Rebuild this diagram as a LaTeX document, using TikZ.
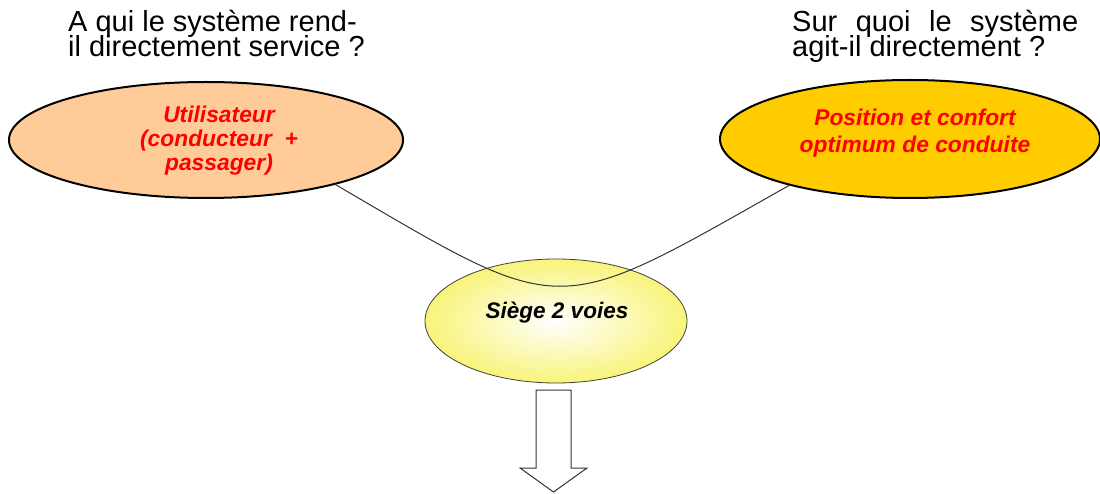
\documentclass[tikz,border=0pt]{standalone}
\usepackage{fontspec}
\setmainfont{Liberation Sans}
\usetikzlibrary{shapes.geometric}
\definecolor{peach}{HTML}{FFCC99}
\definecolor{gold}{HTML}{FFCC00}
\definecolor{paleyel}{HTML}{F8F47A}
\setlength{\lineskiplimit}{-20pt}
\tikzset{
  question/.style={anchor=base west, align=left, inner sep=0,
    font=\fontsize{29}{25}\selectfont},
  bigell/.style={ellipse, draw=black, line width=2pt, inner sep=0},
  redtxt/.style={align=center, text=red, inner sep=0,
    font=\fontsize{22.8}{24}\selectfont\bfseries\itshape},
  midell/.style={ellipse, draw=black!75, line width=0.8pt, inner sep=0,
    inner color=white, outer color=paleyel},
  link/.style={draw=black!80, line width=1pt},
  blockarrow/.style={draw=black!80, line width=1pt, fill=white}
}
\begin{document}
\begin{tikzpicture}[x=1pt,y=-1pt]
\useasboundingbox (0,0) rectangle (1100,494);
% questions
\node[question] (q1) at (68,57) {A qui le système rend-\\il directement service ?};
\node[question] (q2) at (792,57) {\hbox to 286pt{Sur\hfill quoi\hfill le\hfill système}\\agit-il directement ?};
% ellipses
\node[bigell, fill=peach, minimum width=394pt, minimum height=116pt] (u) at (206,140) {};
\node[redtxt] (ut) at (219,141) {Utilisateur\\(conducteur \ +\\passager)};
\node[bigell, fill=gold, minimum width=380pt, minimum height=118pt] (p) at (910,139) {};
\node[redtxt, font=\fontsize{22.8}{27}\selectfont\bfseries\itshape] (pt) at (915,133) {Position et confort\\optimum de conduite};
\node[midell, minimum width=262pt, minimum height=124pt] (s) at (556,321) {};
\node[font=\fontsize{22.5}{24}\selectfont\bfseries\itshape, inner sep=0] (st) at (557,313) {Siège 2 voies};
% connector
\draw[link] (u.-19.5) .. controls (567,320) and (551,320) .. (p.201);
% block arrow
\draw[blockarrow] (536,390) -- (571,390) -- (571,468) -- (587,468) -- (553.5,492)
  -- (520,468) -- (536,468) -- cycle;
\end{tikzpicture}
\end{document}
